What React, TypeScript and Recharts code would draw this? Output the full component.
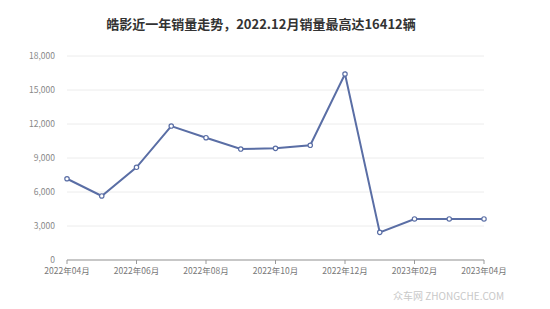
import React from "react";
import { LineChart, Line, XAxis, YAxis, CartesianGrid } from "recharts";

const months = [
  "2022年04月", "2022年05月", "2022年06月", "2022年07月", "2022年08月", "2022年09月",
  "2022年10月", "2022年11月", "2022年12月", "2023年01月", "2023年02月", "2023年03月", "2023年04月",
];
const sales = [7170, 5650, 8180, 11820, 10790, 9790, 9850, 10120, 16412, 2440, 3620, 3620, 3620];
const yTicks = [0, 3000, 6000, 9000, 12000, 15000, 18000];

const data = months.map((m, i) => ({ month: m, sales: sales[i] }));

const fmt = (v: number) => v.toLocaleString("en-US");

export default function App() {
  return (
    <div style={{ position: "absolute", left: 0, top: 0, width: 550, height: 309, background: "#fff", fontFamily: "'Noto Sans CJK SC', 'Noto Sans', sans-serif" }}>
      <div
        style={{
          position: "absolute",
          left: 0,
          width: 522,
          top: 15,
          textAlign: "center",
          fontSize: 13,
          fontWeight: "bold",
          color: "#333",
          lineHeight: "18px",
        }}
      >
        皓影近一年销量走势，2022.12月销量最高达16412辆
      </div>
      <LineChart
        width={550}
        height={309}
        data={data}
        margin={{ top: 56, right: 66, left: 0, bottom: 19 }}
      >
        <CartesianGrid horizontal vertical={false} stroke="#ececec" />
        <XAxis
          dataKey="month"
          interval={1}
          axisLine={{ stroke: "#999" }}
          tickLine={{ stroke: "#999" }}
          tickSize={4}
          tickMargin={4}
          height={30}
          tick={{ fontSize: 8.5, fill: "#777" }}
        />
        <YAxis
          width={67}
          domain={[0, 18000]}
          ticks={yTicks}
          tickFormatter={fmt}
          axisLine={false}
          tickLine={false}
          tickMargin={6}
          tick={{ fontSize: 8.5, fill: "#888" }}
        />
        <Line
          type="linear"
          dataKey="sales"
          stroke="#5a6ea5"
          strokeWidth={2}
          dot={{ r: 2.2, fill: "#fff", stroke: "#5a6ea5", strokeWidth: 1.2 }}
          isAnimationActive={false}
        />
      </LineChart>
      <div
        style={{
          position: "absolute",
          left: 393,
          top: 288,
          fontSize: 10,
          color: "#c8c8c8",
          whiteSpace: "nowrap",
        }}
      >
        众车网 ZHONGCHE.COM
      </div>
    </div>
  );
}
